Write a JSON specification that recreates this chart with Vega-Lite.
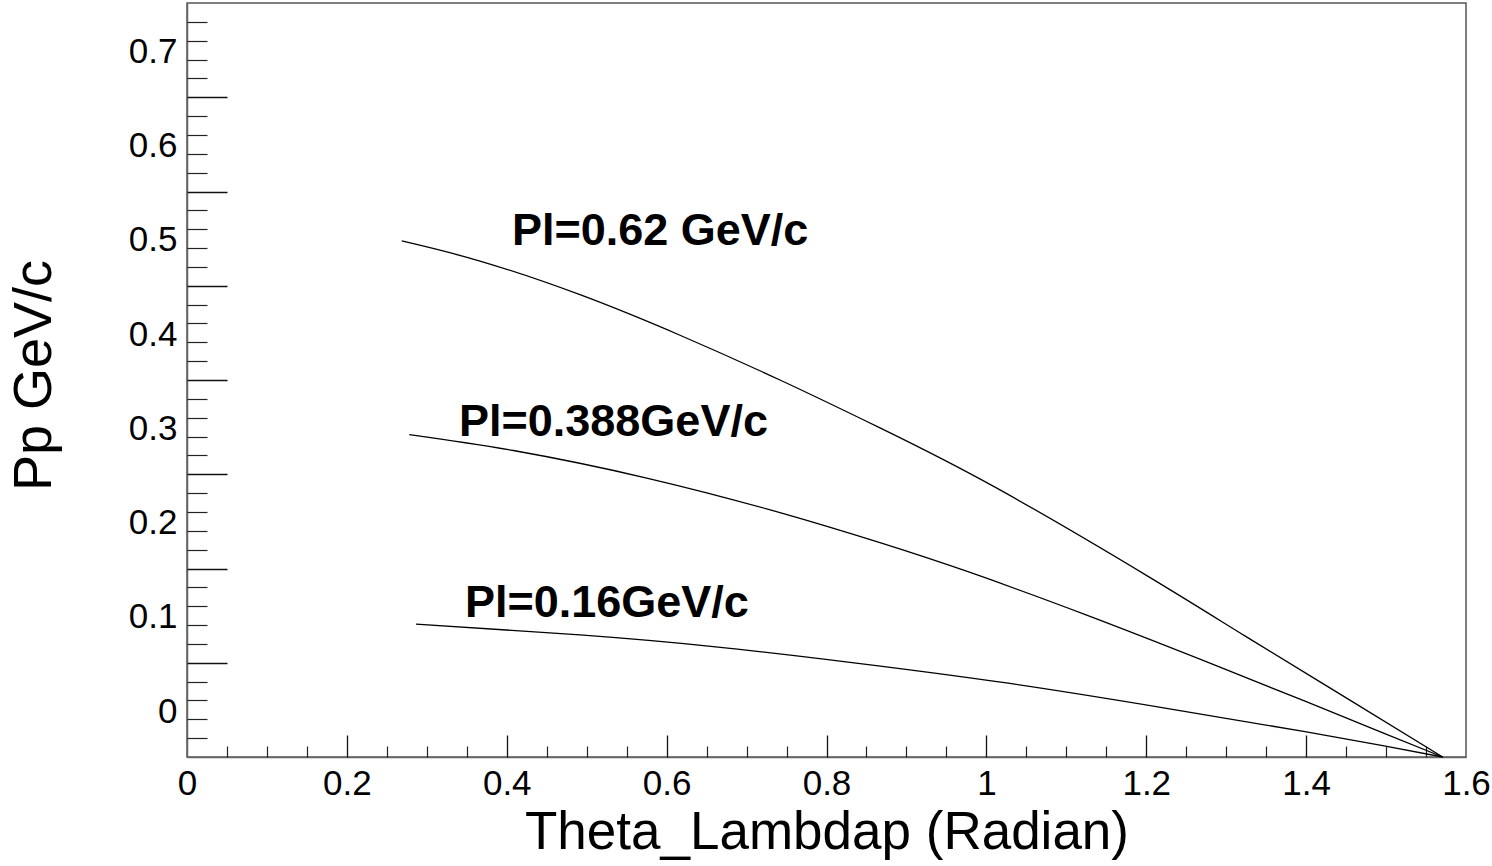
{
  "$schema": "https://vega.github.io/schema/vega-lite/v6.json",
  "width": 1279,
  "height": 754,
  "autosize": {"type": "none"},
  "padding": {"left": 187, "top": 3, "right": 26, "bottom": 109},
  "background": "white",
  "config": {
    "view": {"stroke": "#555", "strokeWidth": 1.5},
    "axis": {
      "grid": false,
      "labelFont": "Liberation Sans",
      "titleFont": "Liberation Sans",
      "labelColor": "#000",
      "titleColor": "#000",
      "titleFontWeight": "normal",
      "labelOverlap": false,
      "labelFlush": false
    }
  },
  "data": {
    "values": [
      {"curve": "Pl=0.62", "theta": 0.2686, "pp": 0.5475},
      {"curve": "Pl=0.62", "theta": 0.3665, "pp": 0.5262},
      {"curve": "Pl=0.62", "theta": 0.4916, "pp": 0.4905},
      {"curve": "Pl=0.62", "theta": 0.6167, "pp": 0.4475},
      {"curve": "Pl=0.62", "theta": 0.7418, "pp": 0.4},
      {"curve": "Pl=0.62", "theta": 0.8669, "pp": 0.3492},
      {"curve": "Pl=0.62", "theta": 1.0125, "pp": 0.2855},
      {"curve": "Pl=0.62", "theta": 1.2007, "pp": 0.1925},
      {"curve": "Pl=0.62", "theta": 1.3244, "pp": 0.128},
      {"curve": "Pl=0.62", "theta": 1.4481, "pp": 0.0638},
      {"curve": "Pl=0.62", "theta": 1.5708, "pp": 0.0},
      {"curve": "Pl=0.388", "theta": 0.2781, "pp": 0.3421},
      {"curve": "Pl=0.388", "theta": 0.4082, "pp": 0.3252},
      {"curve": "Pl=0.388", "theta": 0.5751, "pp": 0.296},
      {"curve": "Pl=0.388", "theta": 0.7418, "pp": 0.2593},
      {"curve": "Pl=0.388", "theta": 0.8669, "pp": 0.2274},
      {"curve": "Pl=0.388", "theta": 0.9779, "pp": 0.1963},
      {"curve": "Pl=0.388", "theta": 1.1263, "pp": 0.1503},
      {"curve": "Pl=0.388", "theta": 1.275, "pp": 0.1012},
      {"curve": "Pl=0.388", "theta": 1.3986, "pp": 0.0592},
      {"curve": "Pl=0.388", "theta": 1.4976, "pp": 0.025},
      {"curve": "Pl=0.388", "theta": 1.5708, "pp": 0.0},
      {"curve": "Pl=0.16", "theta": 0.2865, "pp": 0.141},
      {"curve": "Pl=0.16", "theta": 0.4916, "pp": 0.1296},
      {"curve": "Pl=0.16", "theta": 0.6584, "pp": 0.1172},
      {"curve": "Pl=0.16", "theta": 0.8294, "pp": 0.1005},
      {"curve": "Pl=0.16", "theta": 1.0274, "pp": 0.0783},
      {"curve": "Pl=0.16", "theta": 1.2254, "pp": 0.0517},
      {"curve": "Pl=0.16", "theta": 1.3986, "pp": 0.0269},
      {"curve": "Pl=0.16", "theta": 1.4976, "pp": 0.0118},
      {"curve": "Pl=0.16", "theta": 1.5708, "pp": 0.0}
    ]
  },
  "layer": [
    {
      "mark": {"type": "line", "color": "#000", "strokeWidth": 1.3, "interpolate": "natural"},
      "encoding": {
        "x": {
          "field": "theta", "type": "quantitative",
          "scale": {"domain": [0, 1.6], "nice": false, "zero": false},
          "axis": {
            "values": [0, 0.2, 0.4, 0.6, 0.8, 1, 1.2, 1.4, 1.6],
            "format": "~g",
            "ticks": false,
            "domain": true, "domainColor": "#666", "domainWidth": 1.5,
            "labelFontSize": 35, "labelBaseline": "alphabetic", "labelPadding": 37,
            "title": "Theta_Lambdap (Radian)",
            "titleFontSize": 53, "titleBaseline": "alphabetic", "titleY": 91
          }
        },
        "y": {
          "field": "pp", "type": "quantitative",
          "scale": {"domain": [0, 0.8], "nice": false, "zero": false},
          "axis": {
            "values": [0, 0.1, 0.2, 0.3, 0.4, 0.5, 0.6, 0.7],
            "format": "~g",
            "ticks": false,
            "domain": true, "domainColor": "#666", "domainWidth": 1.5,
            "labelFontSize": 35, "labelAlign": "right", "labelBaseline": "middle",
            "labelPadding": 10, "labelOffset": -46,
            "title": "Pp GeV/c",
            "titleFontSize": 54, "titleAngle": 270, "titleAlign": "center",
            "titleBaseline": "alphabetic", "titleX": -137, "titleY": 372
          }
        },
        "detail": {"field": "curve"}
      }
    },
    {
      "mark": {"type": "line", "opacity": 0},
      "encoding": {
        "x": {
          "field": "theta", "type": "quantitative",
          "scale": {"domain": [0, 1.6], "nice": false, "zero": false},
          "axis": {
            "orient": "bottom", "values": [0.2, 0.4, 0.6, 0.8, 1, 1.2, 1.4],
            "labels": false, "domain": false, "title": null,
            "tickSize": -22, "tickColor": "#111", "tickWidth": 1.3
          }
        },
        "y": {
          "field": "pp", "type": "quantitative",
          "scale": {"domain": [0, 0.8], "nice": false, "zero": false},
          "axis": {
            "orient": "left", "values": [0.1, 0.2, 0.3, 0.4, 0.5, 0.6, 0.7],
            "labels": false, "domain": false, "title": null,
            "tickSize": -40, "tickColor": "#111", "tickWidth": 1.3
          }
        },
        "detail": {"field": "curve"}
      }
    },
    {
      "mark": {"type": "line", "opacity": 0},
      "encoding": {
        "x": {
          "field": "theta", "type": "quantitative",
          "scale": {"domain": [0, 1.6], "nice": false, "zero": false},
          "axis": {
            "orient": "bottom",
            "values": [0.05, 0.1, 0.15, 0.25, 0.3, 0.35, 0.45, 0.5, 0.55, 0.65, 0.7, 0.75, 0.85, 0.9, 0.95, 1.05, 1.1, 1.15, 1.25, 1.3, 1.35, 1.45, 1.5, 1.55],
            "labels": false, "domain": false, "title": null,
            "tickSize": -11, "tickColor": "#222", "tickWidth": 1.2
          }
        },
        "y": {
          "field": "pp", "type": "quantitative",
          "scale": {"domain": [0, 0.8], "nice": false, "zero": false},
          "axis": {
            "orient": "left",
            "values": [0.02, 0.04, 0.06, 0.08, 0.12, 0.14, 0.16, 0.18, 0.22, 0.24, 0.26, 0.28, 0.32, 0.34, 0.36, 0.38, 0.42, 0.44, 0.46, 0.48, 0.52, 0.54, 0.56, 0.58, 0.62, 0.64, 0.66, 0.68, 0.72, 0.74, 0.76, 0.78],
            "labels": false, "domain": false, "title": null,
            "tickSize": -20, "tickColor": "#222", "tickWidth": 1.2
          }
        },
        "detail": {"field": "curve"}
      }
    },
    {
      "data": {
        "values": [
          {"label": "Pl=0.62 GeV/c", "theta": 0.4065, "pp": 0.5429},
          {"label": "Pl=0.388GeV/c", "theta": 0.3402, "pp": 0.341},
          {"label": "Pl=0.16GeV/c", "theta": 0.3477, "pp": 0.1487}
        ]
      },
      "mark": {
        "type": "text", "font": "Liberation Sans", "fontWeight": "bold",
        "fontSize": 45, "align": "left", "baseline": "alphabetic", "color": "#000"
      },
      "encoding": {
        "x": {"field": "theta", "type": "quantitative", "scale": {"domain": [0, 1.6], "nice": false, "zero": false}, "axis": null},
        "y": {"field": "pp", "type": "quantitative", "scale": {"domain": [0, 0.8], "nice": false, "zero": false}, "axis": null},
        "text": {"field": "label"}
      }
    }
  ],
  "resolve": {"axis": {"x": "independent", "y": "independent"}}
}
